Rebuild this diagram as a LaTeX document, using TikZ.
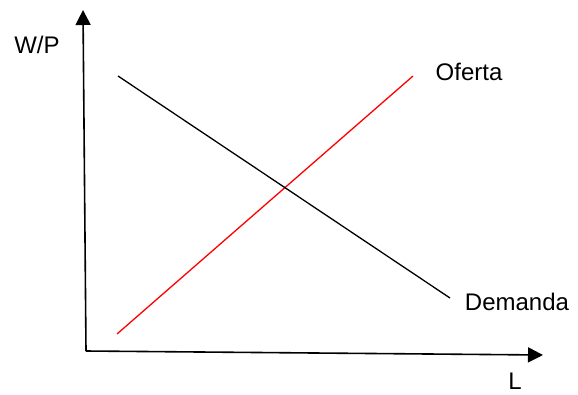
\documentclass[tikz,border=0pt]{standalone}
\usepackage{fontspec}
\setmainfont{Liberation Sans}
\usetikzlibrary{arrows.meta}
\begin{document}
\begin{tikzpicture}[x=1pt,y=-1pt,
  axis/.style={line width=1.6pt,-{Triangle[length=15pt,width=15pt]}},
  curve/.style={line width=1.3pt},
  lbl/.style={font=\fontsize{24}{28}\selectfont, inner sep=0pt}]
\useasboundingbox (0,0) rectangle (578,394);
\coordinate (O) at (86,351);
\coordinate (Ytop) at (83,10);
\coordinate (Xend) at (543,355);
\draw[axis] (O) -- (Ytop);
\draw[axis] (O) -- (Xend);
\coordinate (s1) at (117,334);
\coordinate (s2) at (413,76);
\coordinate (d1) at (118,76);
\coordinate (d2) at (450,298);
\draw[curve, red] (s1) -- (s2);
\draw[curve] (d1) -- (d2);
\node[lbl] (wp) at (37,45) {W/P};
\node[lbl] (of) at (469,72) {Oferta};
\node[lbl] (de) at (517,302) {Demanda};
\node[lbl] (L) at (515,381) {L};
\end{tikzpicture}
\end{document}
